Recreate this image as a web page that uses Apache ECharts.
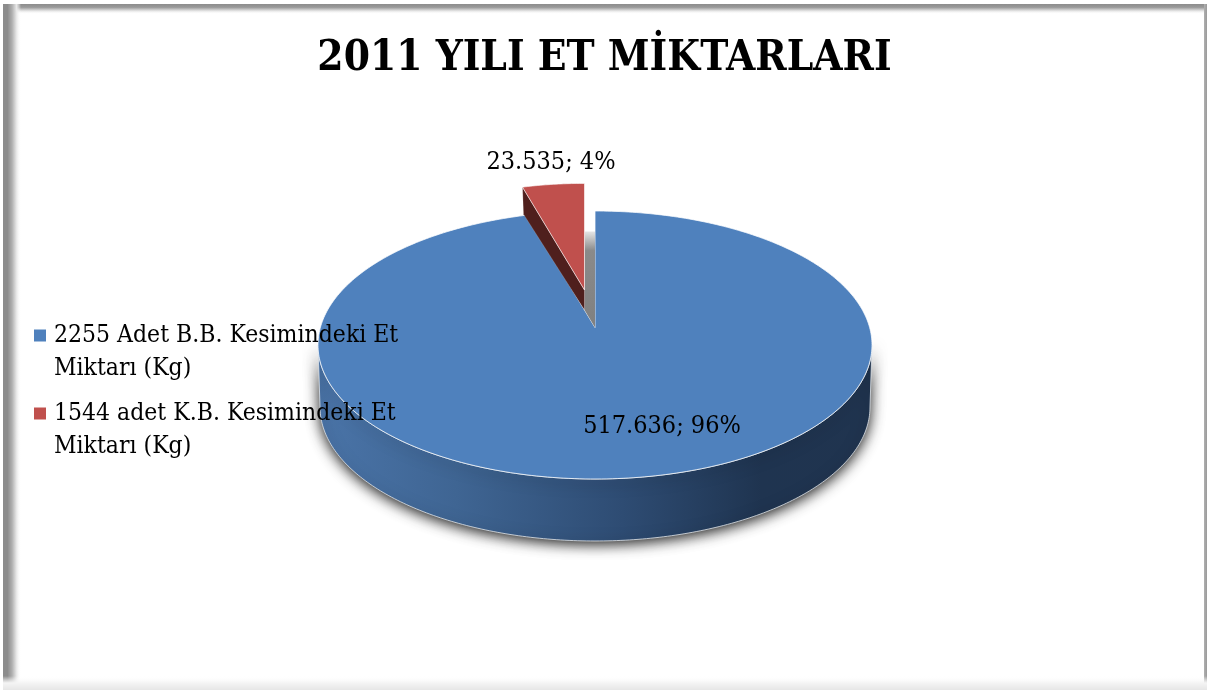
<!DOCTYPE html>
<html><head><meta charset="utf-8">
<style>html,body{margin:0;padding:0;background:#fff}#c{width:1209px;height:690px}</style>
<script src="https://cdn.jsdelivr.net/npm/echarts@6/dist/echarts.min.js"></script>
</head><body><div id="c"></div>
<script>
const chartTitle = '2011 YILI ET MİKTARLARI';
const categories = ['2255 Adet B.B. Kesimindeki Et\nMiktarı (Kg)', '1544 adet K.B. Kesimindeki Et\nMiktarı (Kg)'];
const seriesValues = [517636, 23535];
const colors = ['#4F81BD', '#C0504D'];
const FONT = 'DejaVu Serif Condensed';

const total = seriesValues.reduce((a, b) => a + b, 0);
const G = {cx: 595, cy: 345, rx: 277, ry: 134, ax: 595, ay: 327.5, k: 0.465,
           lowCy: 407, lowRx: 275, lowRy: 134,
           redAx: 584.5, redAy: 290, redS: 0.915, redDepthApex: 20, redDepthEdge: 27};

function rim(theta) {
  const dx = Math.sin(theta), dy = -G.k * Math.cos(theta);
  const ox = G.ax - G.cx, oy = G.ay - G.cy;
  const a = dx * dx / (G.rx * G.rx) + dy * dy / (G.ry * G.ry);
  const b = 2 * (ox * dx / (G.rx * G.rx) + oy * dy / (G.ry * G.ry));
  const c = ox * ox / (G.rx * G.rx) + oy * oy / (G.ry * G.ry) - 1;
  const t = (-b + Math.sqrt(b * b - 4 * a * c)) / (2 * a);
  return [G.ax + t * dx, G.ay + t * dy];
}
function arc(from, to, n) {
  const p = [];
  for (let i = 0; i <= n; i++) p.push(rim(from + (to - from) * i / n));
  return p;
}
function fmt(v) { return String(v).replace(/\B(?=(\d{3})+$)/g, '.'); }
function labelText(v) { return fmt(v) + '; ' + Math.round(v / total * 100) + '%'; }
function label(x, y, text) {
  return {type: 'text', z2: 30, style: {x, y, text, align: 'center', verticalAlign: 'middle',
    font: '25px "' + FONT + '"', fill: '#000'}};
}

function renderBlue(params, api) {
  const v = api.value(0);
  const th = 2 * Math.PI * v / total;
  const top = [];
  const bot = [];
  for (let i = 0; i <= 200; i++) {
    const a = Math.PI * i / 200;
    top.push([G.cx + G.rx * Math.cos(a), G.cy + G.ry * Math.sin(a)]);
    bot.unshift([G.cx + G.lowRx * Math.cos(a), G.lowCy + G.lowRy * Math.sin(a)]);
  }
  return {type: 'group', children: [
    {type: 'polygon', shape: {points: top.concat(bot)}, style: {
      fill: {type: 'linear', x: 0, y: 0, x2: 1, y2: 0, colorStops: [
        {offset: 0, color: '#4a74a8'}, {offset: 0.25, color: '#3f6593'},
        {offset: 0.55, color: '#2e4c73'}, {offset: 0.8, color: '#1f3450'}, {offset: 1, color: '#20344f'}]},
      stroke: 'rgba(225,230,235,0.8)', lineWidth: 1,
      shadowBlur: 14, shadowColor: 'rgba(0,0,0,0.9)', shadowOffsetX: 0, shadowOffsetY: 3}},
    {type: 'polygon', z2: 5, shape: {points: [[G.ax, G.ay]].concat(arc(0, th, 360))},
      style: {fill: colors[0], stroke: 'rgba(255,255,255,0.75)', lineWidth: 1}},
    label(662, 426, labelText(v))
  ]};
}

function renderRed(params, api) {
  const v = api.value(0);
  const start = 2 * Math.PI * (1 - v / total);
  const pts = arc(start, 2 * Math.PI, 24).map(p => [
    G.redAx + (p[0] - G.ax) * G.redS, G.redAy + (p[1] - G.ay) * G.redS]);
  const first = pts[0];
  const last = pts[pts.length - 1];
  return {type: 'group', children: [
    {type: 'polygon', z2: 6, shape: {points: [
      [last[0] + 10.5, last[1] + 48], [G.ax, G.ay - 16], [G.ax, G.ay], [last[0], G.redAy + G.redDepthApex], [last[0], last[1] + 48]]},
      style: {fill: {type: 'linear', x: 0, y: 0, x2: 0, y2: 1, colorStops: [
        {offset: 0, color: '#e6e6e6'}, {offset: 0.2, color: '#8a8a8a'}, {offset: 1, color: '#808080'}]}}},
    {type: 'polygon', z2: 7, shape: {points: [
      first, [G.redAx, G.redAy], [G.redAx, G.redAy + G.redDepthApex], [first[0] + 1, first[1] + G.redDepthEdge]]},
      style: {fill: '#4f1f1d', stroke: 'rgba(255,255,255,0.35)', lineWidth: 0.5}},
    {type: 'polygon', z2: 8, shape: {points: [[G.redAx, G.redAy]].concat(pts)},
      style: {fill: colors[1], stroke: 'rgba(255,255,255,0.6)', lineWidth: 1}},
    label(551, 162, labelText(v))
  ]};
}

const CLEAR = 'rgba(255,255,255,0)';
function frameRect(x, y, width, height, horizontal, stops) {
  return {type: 'rect', silent: true, z: -1, shape: {x, y, width, height}, style: {
    fill: {type: 'linear', x: 0, y: 0, x2: horizontal ? 1 : 0, y2: horizontal ? 0 : 1,
      colorStops: stops.map((c, i) => ({offset: i / (stops.length - 1), color: c}))}}};
}

const chart = echarts.init(document.getElementById('c'), null, {renderer: 'canvas'});
chart.setOption({
  animation: false,
  backgroundColor: '#fff',
  graphic: [
    frameRect(3, 4, 1204, 10, false, ['#8c8c8c', '#9a9a9a', '#e0e0e0', CLEAR]),
    frameRect(3, 4, 18, 686, true, ['#8c8c8c', '#8c8c8c', '#b0b0b0', '#e8e8e8', CLEAR]),
    frameRect(1204, 4, 3, 686, true, ['#b0b0b0', '#9a9a9a']),
    frameRect(3, 676, 1204, 14, false, [CLEAR, '#f4f4f4', '#e6e6e6'])
  ],
  title: {text: chartTitle, left: 'center', top: 33, textStyle: {
    fontFamily: FONT, fontWeight: 'bold', fontSize: 42, color: '#000'}},
  legend: {
    orient: 'vertical', left: 34, top: 286, padding: 0, itemWidth: 12, itemHeight: 12, itemGap: -21,
    icon: 'rect', selectedMode: false,
    data: categories,
    formatter: n => ' \n' + n,
    textStyle: {fontFamily: FONT, fontSize: 24.5, lineHeight: 33, color: '#000', padding: [0, 0, 0, 3]}
  },
  series: [
    {type: 'custom', coordinateSystem: 'none', name: categories[0], data: [[seriesValues[0]]],
      itemStyle: {color: colors[0]}, renderItem: renderBlue, silent: true, z: 2},
    {type: 'custom', coordinateSystem: 'none', name: categories[1], data: [[seriesValues[1]]],
      itemStyle: {color: colors[1]}, renderItem: renderRed, silent: true, z: 3}
  ]
});
</script></body></html>
